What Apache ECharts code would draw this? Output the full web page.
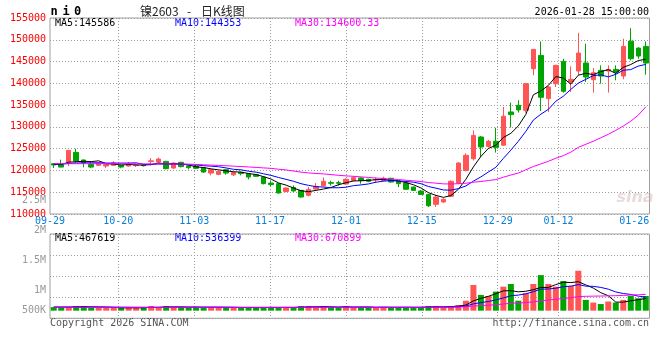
<!DOCTYPE html>
<html><head><meta charset="utf-8">
<script src="https://cdn.jsdelivr.net/npm/echarts@6/dist/echarts.min.js"></script>
<style>html,body{margin:0;padding:0;background:#fff}#c{width:660px;height:360px}</style>
</head><body><div id="c"></div><script>
const dates = ['09-29','09-30','10-09','10-10','10-13','10-14','10-15','10-16','10-17','10-20','10-21','10-22','10-23','10-24','10-27','10-28','10-29','10-30','10-31','11-03','11-04','11-05','11-06','11-07','11-10','11-11','11-12','11-13','11-14','11-17','11-18','11-19','11-20','11-21','11-24','11-25','11-26','11-27','11-28','12-01','12-02','12-03','12-04','12-05','12-08','12-09','12-10','12-11','12-12','12-15','12-16','12-17','12-18','12-19','12-22','12-23','12-24','12-25','12-26','12-29','12-30','12-31','01-05','01-06','01-07','01-08','01-09','01-12','01-13','01-14','01-15','01-16','01-19','01-20','01-21','01-22','01-23','01-26','01-27','01-28'];
const opens = [121550,121330,121930,124150,122400,121400,121170,121010,121170,121170,121010,121100,121250,122080,121930,122080,120550,121860,121010,121000,120640,119400,119100,120180,119000,119560,119270,119030,118480,117100,116970,115190,116060,115420,114300,115730,116470,117200,117200,116880,117730,118270,117960,117850,117650,118200,117580,117100,116190,115270,114500,112220,112760,114080,117120,120000,122700,127680,125530,126700,125800,133430,134960,133820,143360,146410,136490,139920,145040,140310,142820,144660,140840,142980,142820,143200,141680,149690,148090,148470];
const closes = [121240,120780,124610,122160,121790,120780,121700,121330,121700,120780,121330,121250,121100,122200,122620,120410,121700,120870,120640,120500,119630,120180,119790,119400,119500,119270,118480,118650,116970,116740,114830,115960,115290,113900,115650,116330,117500,117050,117050,117960,118350,117730,117500,117900,118200,117340,116970,115680,115420,114500,111900,113900,113360,117500,121700,123460,128050,125380,126680,125300,132440,132820,133890,139920,147790,136800,139160,144120,138170,140920,146950,141450,142440,141680,143200,142590,148470,145650,146260,144660];
const lows = [120550,120700,121000,121790,120700,120550,121000,120550,121100,120500,120900,120800,120900,121170,121800,120250,120400,120700,120250,120300,119400,118880,118900,119030,118700,118900,117960,118500,116800,116400,114690,115000,115100,113750,114060,115600,116300,116500,116500,116700,117500,116970,117300,117200,117500,117200,116190,115500,115300,114400,111610,111610,112500,113900,116900,119800,122300,123090,125300,124100,125650,129850,133280,133280,141830,133660,133430,139160,137860,138010,141830,140310,137860,139920,137860,140690,140920,145270,145650,141980];
const highs = [121700,122470,124700,125000,122500,122080,121800,121400,122080,121300,121930,121500,121400,122850,122930,122200,121800,122000,121200,121300,120800,120250,119900,120300,119700,119700,119400,119200,118600,117560,117100,116100,116570,115500,116190,117100,118400,117650,117650,118200,118700,118400,118100,118350,118550,118300,117700,117200,116300,115500,114600,114310,113600,117730,121930,123920,129200,127900,127000,129800,134580,135570,136110,140000,147900,149620,139390,144270,145650,143890,151600,149080,143510,144120,144120,144120,150230,152670,148300,149620];
const ma5 = [121400,121350,121900,122000,122116,122024,122208,121552,121460,121258,121368,121278,121232,121332,121700,121516,121606,121560,121248,120824,120668,120364,120148,119900,119700,119628,119288,119060,118574,118022,117134,116630,115958,115344,115126,115426,115734,116086,116716,117178,117582,117628,117718,117888,117936,117734,117582,117218,116722,115982,114894,114280,113816,114232,115672,117984,120814,123218,125054,125774,127570,128524,130226,132874,137372,138244,139512,141558,141208,139834,141864,142322,141986,142688,143144,142272,143676,144318,145234,145526];
const ma10 = [121500,121450,121600,121700,121750,121750,121750,121700,121700,121687,121696,121743,121392,121396,121479,121442,121442,121396,121290,121262,121092,120985,120854,120574,120262,120148,119826,119604,119237,118861,118381,117959,117509,116959,116574,116280,116182,116022,116030,116152,116504,116681,116902,117302,117557,117658,117605,117468,117305,116959,116314,115931,115517,115477,115827,116439,117547,118517,119643,120723,122777,124669,126722,128964,131573,132907,134018,135892,137041,138603,140054,140917,141772,141948,141489,142068,142999,143152,143961,144335];
const ma30 = [121550,121550,121550,121550,121550,121550,121550,121550,121550,121550,121550,121500,121500,121500,121500,121500,121500,121500,121450,121380,121300,121220,121150,121080,120980,120900,120800,120700,120580,120480,120280,120120,119860,119620,119440,119300,119200,119050,118880,118750,118650,118520,118390,118260,118140,118040,117910,117750,117610,117440,117230,117080,116920,116890,116950,117070,117300,117470,117680,117900,118450,118950,119400,120150,120900,121500,122100,122800,123400,124200,125300,126000,126700,127500,128300,129200,130200,131300,132700,134600];
const volumes = [50000,50000,60000,100000,100000,20000,20000,20000,20000,10000,20000,20000,40000,100000,40000,100000,40000,40000,40000,40000,40000,40000,40000,40000,20000,20000,40000,10000,40000,40000,40000,20000,40000,100000,100000,40000,100000,40000,20000,100000,20000,40000,40000,40000,40000,40000,40000,40000,40000,40000,100000,100000,40000,100000,150000,360000,1120000,640000,590000,800000,1040000,1170000,360000,720000,1170000,1600000,1170000,1040000,1310000,1070000,1810000,400000,270000,200000,320000,270000,400000,590000,480000,590000];
const volMa5 = [50000,50000,50000,60000,72000,66000,60000,52000,36000,18000,18000,18000,22000,38000,44000,60000,64000,64000,52000,52000,40000,40000,40000,40000,36000,32000,32000,26000,30000,34000,34000,36000,36000,48000,60000,64000,76000,64000,48000,60000,44000,44000,48000,36000,40000,40000,40000,40000,40000,40000,52000,64000,64000,76000,98000,150000,354000,474000,572000,702000,838000,848000,792000,818000,892000,1004000,1004000,1140000,1258000,1238000,1280000,1126000,972000,750000,600000,292000,292000,356000,412000,466000];
const volMa10 = [50000,50000,50000,50000,50000,50000,50000,50000,50000,45000,42000,39000,37000,37000,31000,39000,41000,43000,45000,48000,50000,52000,52000,46000,44000,36000,36000,33000,35000,35000,33000,34000,31000,39000,47000,49000,56000,50000,48000,60000,54000,60000,56000,42000,50000,42000,42000,44000,38000,40000,46000,52000,52000,58000,69000,101000,209000,269000,324000,400000,494000,601000,633000,695000,797000,921000,926000,966000,1038000,1065000,1142000,1065000,1056000,1004000,919000,786000,709000,664000,581000,533000];
const volMa30 = [46000,46000,46000,46000,45000,45000,45000,45000,44000,44000,44000,44000,44000,44000,44000,44000,45000,45000,45000,45000,45000,45000,45000,45000,44000,44000,44000,44000,44000,44000,44000,44000,44000,45000,45000,45000,46000,46000,46000,46000,46000,46000,46000,45000,45000,45000,45000,45000,45000,45000,47000,49000,49000,51000,55000,67000,103000,124000,142000,167000,201000,239000,250000,270000,306000,358000,394000,427000,470000,502000,562000,574000,582000,587000,596000,604000,616000,634000,649000,667000];
const dateLabelIdx = [0,9,19,29,39,49,59,67,77];
const dateGridIdx = [9,19,29,39,49,59,67];
const volTickValues = [500000,1000000,1500000,2000000,2500000];
const volTickLabels = ['500K','1M','1.5M','2M','2.5M'];

const RED = '#ff5555', GREEN = '#00a400';
const MONO = '"DejaVu Sans Mono", "Liberation Mono", monospace';
const chart = echarts.init(document.getElementById('c'), null, {renderer:'canvas'});
const kData = dates.map((d,i)=>[opens[i],closes[i],lows[i],highs[i]]);
const volData = volumes.map((v,i)=>({value:v, itemStyle:{color: closes[i] > opens[i] ? RED : GREEN}}));
const dotted = {type:[1,2], color:'#9a9a9a', width:1};
const gridBase = {left:50, width:599.5, outerBoundsMode:'none', containLabel:false};
function txt(x,y,text,fill,font,align){
  return {type:'text', x:x, y:y, silent:true, style:{text:text, fill:fill, font:font, align:align||'left', verticalAlign:'middle'}};
}
const lineS = (name,data,color,xi,yi)=>({name, type:'line', data, xAxisIndex:xi, yAxisIndex:yi, showSymbol:false, symbol:'none', smooth:false, lineStyle:{color, width:1}, itemStyle:{color}, animation:false, z:5});

chart.setOption({
  animation:false,
  backgroundColor:'#fff',
  grid:[
    Object.assign({top:18, height:196, show:true, borderColor:'#a0a0a0', borderWidth:1}, gridBase),
    Object.assign({top:234, height:84.3, show:true, borderColor:'#a0a0a0', borderWidth:1}, gridBase),
    Object.assign({top:200.3, height:120, show:false}, gridBase)
  ],
  xAxis:[
    {type:'category', gridIndex:0, data:dates, boundaryGap:true, position:'top', axisLine:{show:false}, axisTick:{show:false}, axisLabel:{show:false}, splitLine:{show:false}},
    {type:'category', gridIndex:0, data:dates, boundaryGap:false, position:'bottom', axisLine:{show:false}, axisTick:{show:false},
      axisLabel:{show:true, interval:(i)=>dateLabelIdx.includes(i), color:'#0a7ed6', fontFamily:MONO, fontSize:10, margin:2},
      splitLine:{show:true, interval:(i)=>dateGridIdx.includes(i), lineStyle:dotted}},
    {type:'category', gridIndex:1, data:dates, boundaryGap:true, position:'top', axisLine:{show:false}, axisTick:{show:false}, axisLabel:{show:false}, splitLine:{show:false}},
    {type:'category', gridIndex:1, data:dates, boundaryGap:false, position:'bottom', axisLine:{show:false}, axisTick:{show:false}, axisLabel:{show:false},
      splitLine:{show:true, interval:(i)=>dateGridIdx.includes(i), lineStyle:dotted}},
    {type:'category', gridIndex:2, data:dates, show:false}
  ],
  yAxis:[
    {type:'value', gridIndex:0, min:110000, max:155000, interval:5000, position:'left', axisLine:{show:false}, axisTick:{show:false},
      axisLabel:{color:'#ff0000', fontFamily:MONO, fontSize:10, margin:4, formatter:(v)=>String(v)}, splitLine:{show:true, lineStyle:dotted}},
    {type:'value', gridIndex:1, min:-490000, max:3588000, startValue:-121000, position:'left', axisLine:{show:false}, axisTick:{show:false}, axisLabel:{show:false}, splitLine:{show:false}},
    {type:'value', gridIndex:1, min:0, max:4, interval:1, position:'left', axisLine:{show:false}, axisTick:{show:false}, axisLabel:{show:false}, splitLine:{show:true, lineStyle:dotted}},
    {type:'value', gridIndex:2, min:500000, max:2500000, interval:500000, position:'left', axisLine:{show:false}, axisTick:{show:false}, splitLine:{show:false},
      axisLabel:{color:'#999', fontFamily:MONO, fontSize:10, margin:4,
        formatter:(v)=>{const k=volTickValues.indexOf(v); const t=k>=0?volTickLabels[k]:''; return k===0?'{lo|'+t+'}':t;},
        rich:{lo:{color:'#999', fontFamily:MONO, fontSize:10, padding:[0,0,20,0]}}}}
  ],
  series:[
    {type:'candlestick', xAxisIndex:0, yAxisIndex:0, data:kData, barWidth:5,
      itemStyle:{color:RED, color0:GREEN, borderColor:RED, borderColor0:GREEN, borderWidth:1}, animation:false, z:3},
    lineS('MA5', ma5, '#000000', 0, 0),
    lineS('MA10', ma10, '#0000ff', 0, 0),
    lineS('MA30', ma30, '#ff00ff', 0, 0),
    {type:'bar', xAxisIndex:2, yAxisIndex:1, data:volData, barWidth:6, animation:false, z:3},
    lineS('VMA5', volMa5, '#000000', 2, 1),
    lineS('VMA10', volMa10, '#0000ff', 2, 1),
    lineS('VMA30', volMa30, '#ff00ff', 2, 1)
  ],
  graphic:[
    txt(50.5,11.5,'n','#000','bold 12px '+MONO),
    txt(62.5,11.5,'i','#000','bold 12px '+MONO),
    txt(74,11.5,'0','#000','bold 12px '+MONO),
    txt(140,11.5,'镍2603','#222','12px "Noto Sans CJK SC"'),
    txt(187,11.5,'-','#222','12px "Noto Sans CJK SC"'),
    txt(201,11.5,'日K线图','#222','12px "Noto Sans CJK SC"'),
    txt(649,12,'2026-01-28 15:00:00','#000','10px '+MONO,'right'),
    txt(55,23.5,'MA5:145586','#000','10px '+MONO),
    txt(175,23.5,'MA10:144353','#0000ff','10px '+MONO),
    txt(295,23.5,'MA30:134600.33','#ff00ff','10px '+MONO),
    txt(55,238.5,'MA5:467619','#000','10px '+MONO),
    txt(175,238.5,'MA10:536399','#0000ff','10px '+MONO),
    txt(295,238.5,'MA30:670899','#ff00ff','10px '+MONO),
    txt(50,323.5,'Copyright 2026 SINA.COM','#555','10px '+MONO),
    txt(649,323.5,'http://finance.sina.com.cn','#555','10px '+MONO,'right'),
    txt(635,198,'sina','rgba(205,175,175,0.45)','italic bold 16px "DejaVu Sans"','center')
  ]
});
</script></body></html>
